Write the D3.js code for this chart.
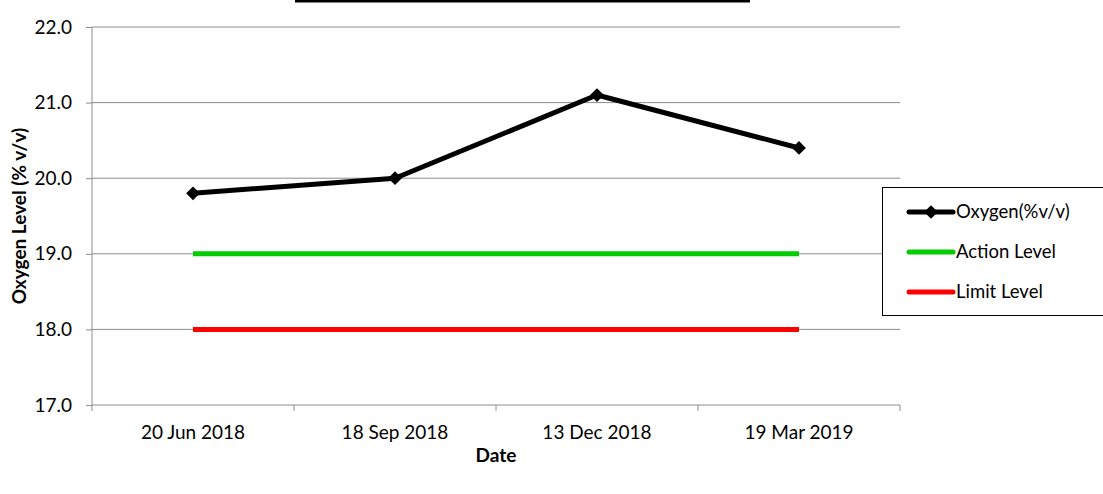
<!DOCTYPE html>
<html>
<head>
<meta charset="utf-8">
<script src="https://cdn.jsdelivr.net/npm/d3@7"></script>
<style>
  body { margin: 0; background: #fff; }
  text { font-family: Lato, "Open Sans", sans-serif; fill: #000; }
  .axis path { display: none; }
</style>
</head>
<body>
<script>
// chart values
var dates = ["20 Jun 2018", "18 Sep 2018", "13 Dec 2018", "19 Mar 2019"];
var oxygen = [19.8, 20.0, 21.1, 20.4];
var actionLevel = [19, 19, 19, 19];
var limitLevel = [18, 18, 18, 18];
var yTicks = [17, 18, 19, 20, 21, 22];
var seriesNames = ["Oxygen(%v/v)", "Action Level", "Limit Level"];

var W = 1103, H = 494;
var margin = { top: 27, left: 92 },
    width = 808,
    height = 378;

var svg = d3.select("body").append("svg")
    .attr("width", W)
    .attr("height", H);

var g = svg.append("g")
    .attr("transform", "translate(" + margin.left + "," + margin.top + ")");

var x = d3.scaleBand().domain(dates).range([0, width]);
var y = d3.scaleLinear().domain([17, 22]).range([height, 0]);

// clipped title underline at the very top
svg.append("line")
    .attr("x1", 295).attr("x2", 750)
    .attr("y1", 1.2).attr("y2", 1.2)
    .attr("stroke", "#000").attr("stroke-width", 2.6);

// gridlines
g.selectAll(".grid")
    .data(yTicks.slice(1))
  .enter().append("line")
    .attr("x1", 0).attr("x2", width)
    .attr("y1", function(d) { return y(d); })
    .attr("y2", function(d) { return y(d); })
    .attr("stroke", "#8c8c8c").attr("stroke-width", 1);

// y axis
var yAxis = g.append("g").attr("class", "axis")
    .call(d3.axisLeft(y).tickValues(yTicks).tickFormat(d3.format(".1f")).tickSize(6).tickPadding(14));
yAxis.selectAll("line").attr("stroke", "#8c8c8c");
yAxis.selectAll("text").style("font-size", "19px");
g.append("line")
    .attr("x1", 0).attr("x2", 0).attr("y1", 0).attr("y2", height)
    .attr("stroke", "#8c8c8c");

// x axis
var xAxis = g.append("g").attr("class", "axis")
    .attr("transform", "translate(0," + height + ")")
    .call(d3.axisBottom(x).tickSize(0).tickPadding(21));
xAxis.selectAll("text").style("font-size", "19px");
g.append("line")
    .attr("x1", 0).attr("x2", width).attr("y1", height).attr("y2", height)
    .attr("stroke", "#8c8c8c");
var bounds = dates.map(function(d) { return x(d); }).concat([width]);
g.selectAll(".xtick")
    .data(bounds)
  .enter().append("line")
    .attr("x1", function(d) { return d; }).attr("x2", function(d) { return d; })
    .attr("y1", height).attr("y2", height + 6)
    .attr("stroke", "#8c8c8c");

// axis titles
svg.append("text")
    .attr("transform", "translate(26," + (margin.top + height / 2) + ") rotate(-90)")
    .attr("text-anchor", "middle")
    .style("font-size", "19px").style("font-weight", "bold")
    .text("Oxygen Level (% v/v)");
svg.append("text")
    .attr("x", margin.left + width / 2).attr("y", 462)
    .attr("text-anchor", "middle")
    .style("font-size", "19px").style("font-weight", "bold")
    .text("Date");

// series lines
var cx = function(d, i) { return x(dates[i]) + x.bandwidth() / 2; };
var line = d3.line().x(cx).y(function(d) { return y(d); });

g.append("path").datum(limitLevel)
    .attr("d", line).attr("fill", "none")
    .attr("stroke", "#ff0000").attr("stroke-width", 5);
g.append("path").datum(actionLevel)
    .attr("d", line).attr("fill", "none")
    .attr("stroke", "#00cc00").attr("stroke-width", 5);
g.append("path").datum(oxygen)
    .attr("d", line).attr("fill", "none")
    .attr("stroke", "#000").attr("stroke-width", 5)
    .attr("stroke-linejoin", "round");

var diamond = d3.symbol().type(d3.symbolDiamond2).size(120);
g.selectAll(".pt")
    .data(oxygen)
  .enter().append("path")
    .attr("d", diamond)
    .attr("transform", function(d, i) { return "translate(" + cx(d, i) + "," + y(d) + ")"; })
    .attr("fill", "#000");

// legend
var legend = svg.append("g").attr("transform", "translate(882,187)");
legend.append("rect")
    .attr("x", 0.5).attr("y", 0.5)
    .attr("width", 240).attr("height", 128)
    .attr("fill", "#fff").attr("stroke", "#000").attr("stroke-width", 1);

var legColors = ["#000", "#00cc00", "#ff0000"];
var rows = legend.selectAll(".row")
    .data(seriesNames)
  .enter().append("g")
    .attr("transform", function(d, i) { return "translate(0," + (25 + i * 40) + ")"; });
rows.append("line")
    .attr("x1", 27).attr("x2", 71)
    .attr("stroke", function(d, i) { return legColors[i]; })
    .attr("stroke-width", 5).attr("stroke-linecap", "round");
rows.filter(function(d, i) { return i === 0; }).append("path")
    .attr("d", diamond).attr("transform", "translate(49,0)").attr("fill", "#000");
rows.append("text")
    .attr("x", 74).attr("dy", "0.35em")
    .style("font-size", "18.5px")
    .text(function(d) { return d; });
</script>
</body>
</html>
